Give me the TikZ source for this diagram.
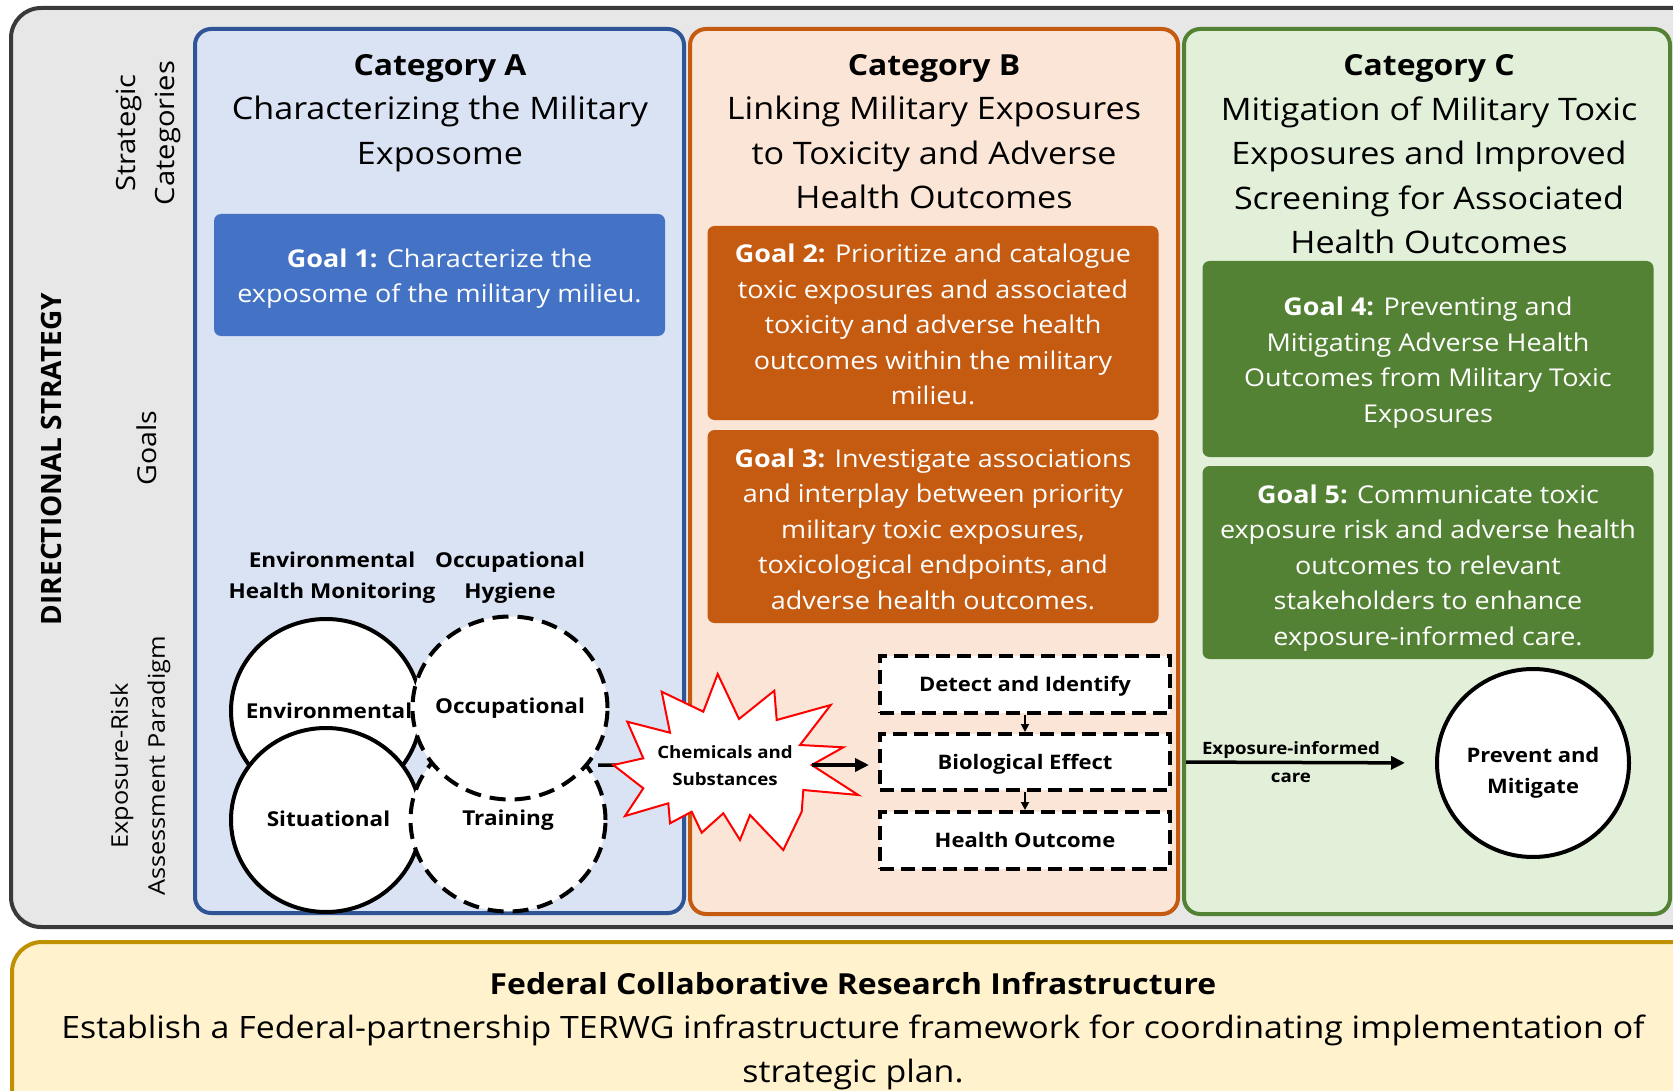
\documentclass[tikz,border=0pt]{standalone}
\usepackage{fontspec}
\setmainfont[FakeStretch=1.1]{Open Sans}
\newfontfamily\plainfont{Open Sans}
\usetikzlibrary{arrows.meta,shapes.geometric}
\definecolor{graybg}{RGB}{231,231,231}
\definecolor{grayln}{RGB}{58,58,58}
\definecolor{blueF}{RGB}{218,227,243}
\definecolor{blueB}{RGB}{47,85,151}
\definecolor{blueG}{RGB}{68,114,196}
\definecolor{orF}{RGB}{251,229,214}
\definecolor{orB}{RGB}{197,90,17}
\definecolor{grF}{RGB}{226,240,217}
\definecolor{grB}{RGB}{84,130,53}
\definecolor{yeF}{RGB}{255,242,204}
\definecolor{yeB}{RGB}{191,144,0}
\newcommand\fsz[2]{\fontsize{#1}{#2}\selectfont}
\begin{document}
\begin{tikzpicture}[x=1pt,y=-1pt,
  catbox/.style={rounded corners=16, line width=4},
  goalbox/.style={rounded corners=7, inner sep=0, minimum width=451},
  goaltext/.style={text=white, align=center, inner sep=0, font=\fsz{24.5}{35.5}},
  hdr/.style={align=center, inner sep=0, font=\fsz{31}{44.5}},
  side/.style={align=center, inner sep=0, rotate=90},
  bl/.style={align=center, inner sep=0, font=\fsz{20.5}{31}\bfseries},
  ell/.style={ellipse, draw, line width=4, fill=white, inner sep=0},
  dashell/.style={ell, dash pattern=on 16pt off 9pt},
  dbox/.style={draw, line width=4, dash pattern=on 14pt off 7pt, fill=white,
    minimum width=290, inner sep=0, text height=14.5pt, text depth=0pt,
    font=\fsz{20}{24}\bfseries},
  bigarrow/.style={line width=3.5, -{Triangle[length=14pt,width=13pt]}},
  smallarrow/.style={line width=1.8, -{Triangle[length=8pt,width=8pt]}}
]
\useasboundingbox (0,0) rectangle (1673,1091);
\clip (0,0) rectangle (1673,1091);
% outer frame
\draw[line width=4, draw=grayln, fill=graybg, rounded corners=30] (11,8) rectangle (1710,927);
% categories
\draw[catbox, draw=blueB, fill=blueF] (195,29) rectangle (684,913);
\draw[catbox, draw=orB, fill=orF] (690,29) rectangle (1178,914);
\draw[catbox, draw=grB, fill=grF] (1184,29) rectangle (1670,914);
% bottom
\draw[line width=4, draw=yeB, fill=yeF, rounded corners=30] (12,942) rectangle (1710,1130);

% headers
\node[hdr] (hA) at (440,113) {{\fsz{29}{44.5}\bfseries Category A}\\Characterizing the Military\\Exposome};
\node[hdr] (hB) at (934,131.5) {{\fsz{29}{44.5}\bfseries Category B}\\Linking Military Exposures\\to Toxicity and Adverse\\Health Outcomes};
\node[hdr] (hC) at (1429,154.5) {{\fsz{29}{44.5}\bfseries Category C}\\Mitigation of Military Toxic\\Exposures and Improved\\Screening for Associated\\Health Outcomes};

% goals
\node[goalbox, fill=blueG, minimum height=122] (g1) at (439.5,275) {};
\node[goalbox, fill=orB, minimum height=194] (g2) at (933,323) {};
\node[goalbox, fill=orB, minimum height=193] (g3) at (933,526.5) {};
\node[goalbox, fill=grB, minimum height=196] (g4) at (1428,359) {};
\node[goalbox, fill=grB, minimum height=193] (g5) at (1428,562.5) {};
\node[goaltext] (g1t) at ([yshift=-3.7pt]g1.center) {\textbf{Goal 1:} Characterize the\\exposome of the military milieu.};
\node[goaltext] (g2t) at ([yshift=-1.6pt]g2.center) {\textbf{Goal 2:} Prioritize and catalogue\\toxic exposures and associated\\toxicity and adverse health\\outcomes within the military\\milieu.};
\node[goaltext] (g3t) at ([yshift=-2.7pt]g3.center) {\textbf{Goal 3:} Investigate associations\\and interplay between priority\\military toxic exposures,\\toxicological endpoints, and\\adverse health outcomes.};
\node[goaltext] (g4t) at ([yshift=-3.7pt]g4.center) {\textbf{Goal 4:} Preventing and\\Mitigating Adverse Health\\Outcomes from Military Toxic\\Exposures};
\node[goaltext] (g5t) at ([yshift=-5.3pt]g5.center) {\textbf{Goal 5:} Communicate toxic\\exposure risk and adverse health\\outcomes to relevant\\stakeholders to enhance\\exposure-informed care.};

% side labels
\node[side, font=\plainfont\fsz{28}{30}\bfseries] (ds) at (51,459) {DIRECTIONAL STRATEGY};
\node[side, font=\fsz{26.5}{39.5}] (sc) at (148.5,133) {Strategic\\Categories};
\node[side, font=\fsz{26}{30}] (gl) at (147,448) {Goals};
\node[side, font=\fsz{23}{37}] (erp) at (140.5,766) {Exposure-Risk\\Assessment Paradigm};

% exposome circles
\node[bl] (ehm) at (332,577.7) {Environmental\\Health Monitoring};
\node[bl] (ohy) at (510,577.7) {Occupational\\Hygiene};
\node[ell, minimum width=190, minimum height=184] (env) at (326,711) {};
\node[ell, minimum width=190, minimum height=184] (sit) at (326,820) {};
\node[dashell, minimum width=195, minimum height=183] (trn) at (508,820) {};
\node[dashell, minimum width=195, minimum height=183] (occ) at (510,708) {};
\node[bl] (envT) at (329,711) {Environmental};
\node[bl] (occT) at (510,708.2) {Occupational};
\node[bl] (sitT) at (328.5,819) {Situational};
\node[bl] (trnT) at (508,820.2) {Training};

% chemicals star
\coordinate (occout) at (598,765);
\node[inner sep=0] (chem) at (725,765.5) {};
\draw[line width=3.5] (occout) -- (chem);
\draw[red, line width=2, fill=white, line join=miter]
 (717.7,674) -- (739,719) -- (774.3,690.7) -- (776.7,720) -- (830.7,705) -- (800,745)
 -- (843.3,747.3) -- (811.7,765) -- (858.3,795) -- (803.3,790) -- (801.7,811.7)
 -- (783.3,850) -- (750,815) -- (740,840) -- (723.3,813.3) -- (701.7,832.7)
 -- (691.7,811.7) -- (670,823.3) -- (668.3,803.3) -- (625,816) -- (643.3,788.3)
 -- (613.3,765) -- (643.3,758.3) -- (627.3,721.7) -- (670,732.7) -- (661.7,691.7)
 -- (703.3,711.7) -- cycle;
\node[align=center, inner sep=0, font=\fsz{17}{27}\bfseries] (chemT) at (chem) {Chemicals and\\Substances};
\coordinate (chemR) at (811.7,765);

% dashed boxes
\node[dbox, minimum height=57] (det) at (1025,684.5) {Detect and Identify};
\node[dbox, minimum height=56] (bio) at (1025,762) {Biological Effect};
\node[dbox, minimum height=57] (hlt) at (1025,840.5) {Health Outcome};
\draw[smallarrow] (det.south) -- (bio.north);
\draw[smallarrow] (bio.south) -- (hlt.north);
\draw[bigarrow, shorten >=9pt] (chemR) -- (bio.west |- chemR);

% prevent
\node[ell, minimum width=192, minimum height=188] (prev) at (1533,763) {};
\node[bl, font=\fsz{20}{31}\bfseries] (prevT) at (1533,773.2) {Prevent and\\Mitigate};
\draw[bigarrow, shorten <=14pt, shorten >=30pt] (bio.east) -- (prev.west);
\node[align=center, inner sep=0, font=\fsz{17}{28}\bfseries] (eic) at (1291,762) {Exposure-informed\\care};

% bottom text
\node[align=center, inner sep=0, font=\fsz{30.8}{44}] (fed) at (853,1031.3) {{\fsz{29}{44}\bfseries Federal Collaborative Research Infrastructure}\\Establish a Federal-partnership TERWG infrastructure framework for coordinating implementation of\\strategic plan.};
\end{tikzpicture}
\end{document}
